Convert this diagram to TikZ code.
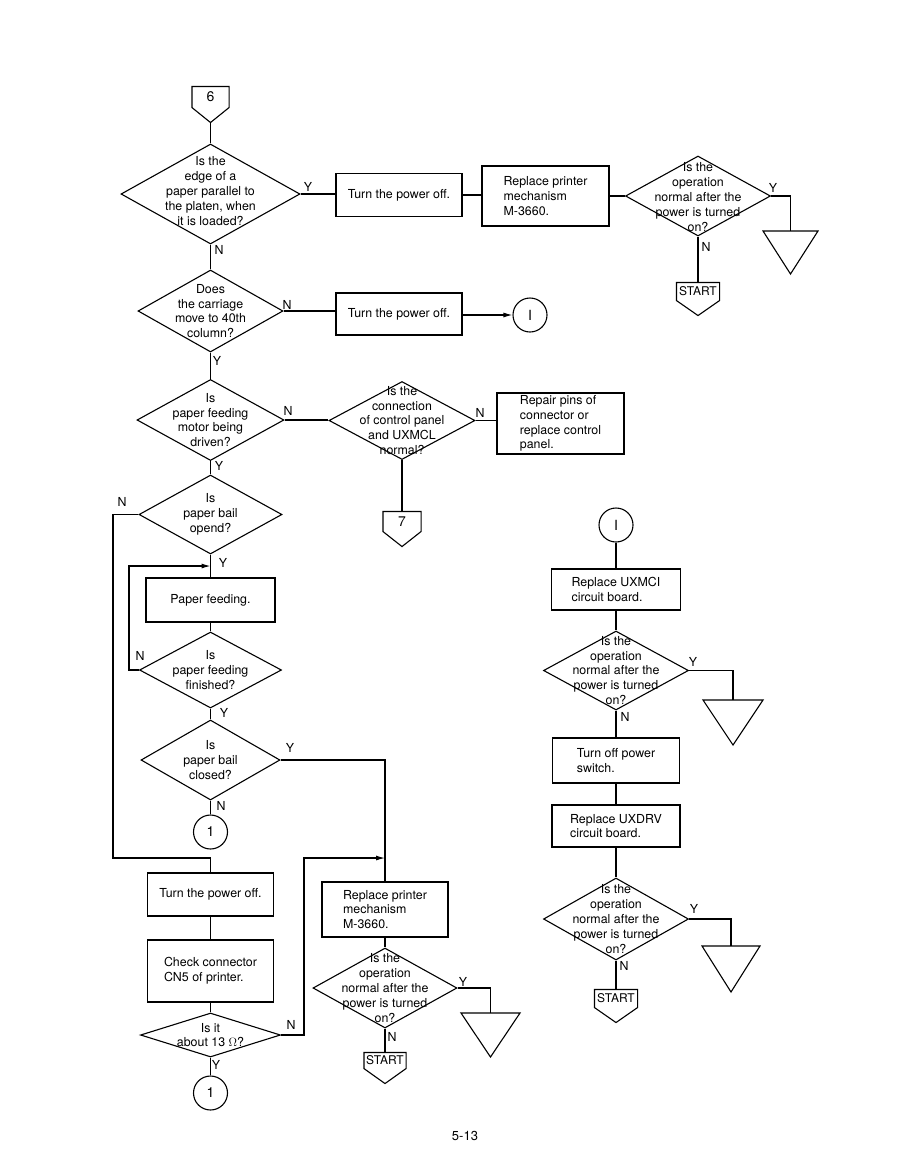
\documentclass[tikz,border=0pt]{standalone}
\usepackage{fontspec}
\setmainfont{TeX Gyre Heros}
\usetikzlibrary{shapes.geometric,arrows.meta}
\newcommand{\hplate}[5]{%
  \node[plate, minimum width=#3, minimum height=#4] (#1) at #2 {#5};
  \draw (#1.south west) -- (#1.north west) -- (#1.north east) -- (#1.south east) -- ([yshift=-15pt]#1.south) -- cycle;
  \coordinate (#1-tip) at ([yshift=-15pt]#1.south);}
\newcommand{\vtri}[4]{%
  \coordinate (#1) at #2;
  \draw ([xshift=-#3pt]#1) -- ([xshift=#3pt]#1) -- ([yshift=-#4pt]#1) -- cycle;}
\begin{document}
\begin{tikzpicture}[x=1pt,y=-1pt, line width=1.1pt,
  every node/.style={font=\fontsize{12.4}{14.8}\selectfont},
  box/.style={draw, rectangle, inner sep=0pt, align=left},
  dia/.style={draw, diamond, inner sep=0pt},
  dtext/.style={align=center, inner sep=0pt},
  circ/.style={draw, circle, minimum size=34pt, inner sep=0pt, font=\fontsize{14}{16}\selectfont},
  plate/.style={inner sep=0pt},
  yn/.style={inner sep=0pt},
  arr/.style={-{Latex[length=9pt,width=5pt]}}]
\useasboundingbox (0,0) rectangle (905,1173);

% ---------- left column ----------
\hplate{c6}{(210.5,97)}{36pt}{20pt}{\fontsize{14}{16}\selectfont 6}
\node[dia, minimum width=179pt, minimum height=100pt] (d1) at (210.5,194) {};
\node[dtext] at ([yshift=3pt]d1.center) {Is the\\edge of a\\paper parallel to\\the platen, when\\it is loaded?};
\node[box, minimum width=126pt, minimum height=43pt] (b1) at (399,195) {Turn the power off.};
\node[box, minimum width=127pt, minimum height=60pt] (b2) at (545.5,196) {Replace printer\\mechanism\\M-3660.};
\node[dia, minimum width=145pt, minimum height=80pt] (d2) at (698,196) {};
\node[dtext] at ([yshift=-1pt]d2.center) {Is the\\operation\\normal after the\\power is turned\\on?};
\vtri{t1}{(790.5,231)}{27.5}{43}
\hplate{s1}{(698,291.5)}{42pt}{17pt}{\fontsize{12}{13}\selectfont START}

\node[dia, minimum width=145pt, minimum height=82pt] (d3) at (210.5,311) {};
\node[dtext] at (d3.center) {Does\\the carriage\\move to 40th\\column?};
\node[box, minimum width=126pt, minimum height=42pt] (b3) at (399,314) {Turn the power off.};
\node[circ] (i1) at (530,315) {I};

\node[dia, minimum width=147pt, minimum height=81pt] (d4) at (210.5,420) {};
\node[dtext] at (d4.center) {Is\\paper feeding\\motor being\\driven?};
\node[dia, minimum width=146pt, minimum height=78pt] (d5) at (402,420.5) {};
\node[dtext] at (d5.center) {Is the\\connection\\of control panel\\and UXMCL\\normal?};
\node[box, minimum width=127pt, minimum height=61pt] (b4) at (560.5,423.5) {Repair pins of\\connector or\\replace control\\panel.};
\hplate{c7}{(402,521.5)}{37pt}{19pt}{\fontsize{14}{16}\selectfont 7}

\node[dia, minimum width=143pt, minimum height=79pt] (d6) at (210.5,514.5) {};
\node[dtext] at (d6.center) {Is\\paper bail\\opend?};
\node[box, minimum width=129pt, minimum height=44pt] (b5) at (210.5,600) {Paper feeding.};
\node[dia, minimum width=142pt, minimum height=76pt] (d7) at (210.5,670) {};
\node[dtext] at (d7.center) {Is\\paper feeding\\finished?};
\node[dia, minimum width=139pt, minimum height=80pt] (d8) at (210.5,760) {};
\node[dtext] at (d8.center) {Is\\paper bail\\closed?};
\node[circ] (ca) at (210.5,832) {1};

\node[box, minimum width=126pt, minimum height=43pt] (b6) at (210.5,894.5) {Turn the power off.};
\node[box, minimum width=126pt, minimum height=62pt] (b7) at (210.5,971) {Check connector\\CN5 of printer.};
\node[dia, minimum width=140pt, minimum height=44pt] (d9) at (210.5,1035) {};
\node[dtext] at (d9.center) {Is it\\about 13 $\Omega$?};
\node[circ] (cb) at (210.5,1093) {1};

% ---------- middle lower column ----------
\node[box, minimum width=126pt, minimum height=55pt] (b8) at (385,909.5) {Replace printer\\mechanism\\M-3660.};
\node[dia, minimum width=144pt, minimum height=80pt] (d10) at (385,988) {};
\node[dtext] at (d10.center) {Is the\\operation\\normal after the\\power is turned\\on?};
\vtri{t3}{(490.5,1013)}{29.5}{44}
\hplate{s3}{(385,1060.5)}{41pt}{15pt}{\fontsize{12}{13}\selectfont START}

% ---------- right column ----------
\node[circ] (i2) at (616,525) {I};
\node[box, minimum width=129pt, minimum height=41pt] (b9) at (616,589.5) {Replace UXMCI\\circuit board.};
\node[dia, minimum width=145pt, minimum height=79pt] (d11) at (616,670.5) {};
\node[dtext] at (d11.center) {Is the\\operation\\normal after the\\power is turned\\on?};
\vtri{t2}{(733,700)}{30}{45}
\node[box, minimum width=127pt, minimum height=45pt] (b10) at (616,760.5) {Turn off power\\switch.};
\node[box, minimum width=128pt, minimum height=42pt] (b11) at (616,826) {Replace UXDRV\\circuit board.};
\node[dia, minimum width=145pt, minimum height=82pt] (d12) at (616,919) {};
\node[dtext] at (d12.center) {Is the\\operation\\normal after the\\power is turned\\on?};
\vtri{t4}{(731,946)}{29}{46}
\hplate{s2}{(616,998.5)}{42pt}{17pt}{\fontsize{12}{13}\selectfont START}

% ---------- junction coordinates ----------
\coordinate (j1) at (210.5,566);
\coordinate (lx1) at (129,566);
\coordinate (lx2) at (113,858);
\coordinate (j2) at (210.5,858);
\coordinate (rx) at (304,858);
\coordinate (j3) at (385,858);

% ---------- connectors ----------
\draw (c6-tip) -- (d1.north);
\draw (d1.east) -- (b1.west |- d1.east);
\draw (b1.east) -- (b2.west |- b1.east);
\draw (b2.east |- d2.west) -- (d2.west);
\draw (d2.east) -| (t1);
\draw (d2.south) -- (s1.north);
\draw (d1.south) -- (d3.north);
\draw (d3.east) -- (b3.west |- d3.east);
\draw[arr] (b3.east |- i1.west) -- (i1.west);
\draw (d3.south) -- (d4.north);
\draw (d4.east) -- (d5.west |- d4.east);
\draw (d5.east) -- (b4.west |- d5.east);
\draw (d5.south) -- (c7.north);
\draw (d4.south) -- (d6.north);
\draw (d6.south) -- (b5.north);
\draw (b5.south) -- (d7.north);
\draw[arr] (d7.west) -| (lx1) -- (j1);
\draw (d7.south) -- (d8.north);
\draw (d8.south) -- (ca.north);
\draw (d8.east) -| (b8.north);
\draw (d6.west) -| (lx2) -- (j2) -- (b6.north);
\draw (b6.south) -- (b7.north);
\draw (b7.south) -- (d9.north);
\draw (d9.south) -- (cb.north);
\draw[arr] (d9.east) -| (rx) -- (j3);
\draw (b8.south) -- (d10.north);
\draw (d10.east) -| (t3);
\draw (d10.south) -- (s3.north);
\draw (i2.south) -- (b9.north);
\draw (b9.south) -- (d11.north);
\draw (d11.east) -| (t2);
\draw (d11.south) -- (b10.north);
\draw (b10.south) -- (b11.north);
\draw (b11.south) -- (d12.north);
\draw (d12.east) -| (t4);
\draw (d12.south) -- (s2.north);

% ---------- Y / N labels ----------
\node[yn] at (308,187) {Y};
\node[yn] at (219,250) {N};
\node[yn] at (773,188) {Y};
\node[yn] at (706,247) {N};
\node[yn] at (287,305) {N};
\node[yn] at (217,361) {Y};
\node[yn] at (288,411) {N};
\node[yn] at (480,413) {N};
\node[yn] at (219,466) {Y};
\node[yn] at (122,502) {N};
\node[yn] at (223,563) {Y};
\node[yn] at (140,656) {N};
\node[yn] at (224,713) {Y};
\node[yn] at (290,748) {Y};
\node[yn] at (221,806) {N};
\node[yn] at (291,1025) {N};
\node[yn] at (216,1065) {Y};
\node[yn] at (463,982) {Y};
\node[yn] at (392,1037) {N};
\node[yn] at (693,662) {Y};
\node[yn] at (625,717) {N};
\node[yn] at (694,909) {Y};
\node[yn] at (624,966) {N};

\node[inner sep=0pt, font=\fontsize{13}{15}\selectfont] (pg) at (465,1136) {5-13};
\end{tikzpicture}
\end{document}
